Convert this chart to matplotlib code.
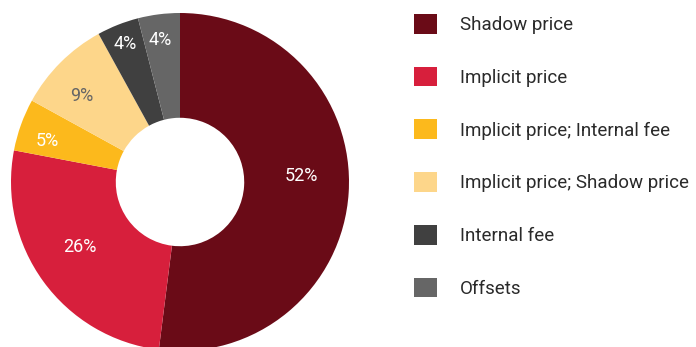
import numpy as np
import matplotlib
matplotlib.use('Agg')
import matplotlib.pyplot as plt
from matplotlib.patches import Patch

labels = ['Shadow price', 'Implicit price', 'Implicit price; Internal fee',
          'Implicit price; Shadow price', 'Internal fee', 'Offsets']
shares = [52, 26, 5, 9, 4, 4]
colors = ['#6A0B17', '#D71F3C', '#FCB91C', '#FDD68A', '#404040', '#666666']
text_colors = ['white', 'white', 'white', '#666666', 'white', 'white']
# label radius / angle nudge per slice (layout only)
label_r = [0.72, 0.71, 0.82, 0.77, 0.88, 0.85]
label_da = [6.4, -3, 2.7, 3.7, 0, 0.8]

plt.rcParams['font.family'] = ['Roboto', 'DejaVu Sans']

fig = plt.figure(figsize=(6.96, 3.47), dpi=100)
# pie centre ~ (180, 182) px, radius ~169 px
ax = fig.add_axes([11 / 696, -4 / 347, 338 / 696, 338 / 347])

wedges, texts, autotexts = ax.pie(
    shares, colors=colors, startangle=90, counterclock=False,
    autopct='%d%%', pctdistance=0.71, radius=1,
    wedgeprops=dict(width=0.62, edgecolor='none'),
    textprops=dict(fontsize=13))
for w, t, c, r, da in zip(wedges, autotexts, text_colors, label_r, label_da):
    ang = np.deg2rad((w.theta1 + w.theta2) / 2 + da)
    t.set_position((r * np.cos(ang), r * np.sin(ang)))
    t.set_color(c)
ax.set_xlim(-1, 1)
ax.set_ylim(-1, 1)
ax.set_aspect('equal')
ax.axis('off')

handles = [Patch(facecolor=c, edgecolor='none') for c in colors]
fig.legend(handles, labels, loc='upper left', bbox_to_anchor=(414 / 696, 1 - 14 / 347),
           frameon=False, fontsize=13.5, handlelength=1.23, handleheight=1.23,
           labelspacing=1.74, handletextpad=1.23, borderpad=0, borderaxespad=0,
           labelcolor='#2a2a2a')

fig.savefig('out.png', dpi=100)
